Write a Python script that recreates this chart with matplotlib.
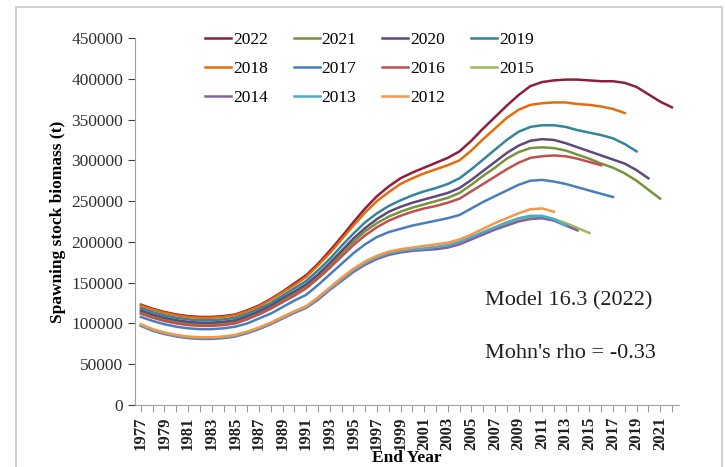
import numpy as np
import matplotlib.pyplot as plt
from matplotlib.patches import Rectangle

# Retrospective peels of spawning stock biomass (thousand t), each starts in 1977
start_year = 1977

ssb_2022 = [123, 118, 114, 111, 109, 108, 108, 109, 111, 116, 122, 130, 139, 149, 159, 173,
            189, 206, 224, 241, 256, 268, 278, 285, 291, 297, 303, 311, 324, 339, 353, 367,
            380, 391, 396, 398, 399, 399, 398, 397, 397, 395, 390, 381, 372, 365]
ssb_2021 = [114, 109, 105, 102, 100, 99, 99, 100, 102, 107, 113, 120, 129, 137, 146, 158,
            171, 186, 200, 213, 223, 231, 237, 242, 246, 250, 254, 260, 270, 281, 291, 302,
            310, 315, 316, 315, 312, 307, 302, 296, 291, 284, 275, 264, 253]
ssb_2020 = [116, 111, 107, 104, 102, 101, 101, 102, 104, 109, 115, 122, 131, 139, 148, 160,
            174, 189, 204, 217, 228, 237, 243, 248, 252, 256, 260, 266, 276, 287, 298, 309,
            318, 324, 326, 325, 321, 316, 311, 306, 301, 296, 288, 278]
ssb_2019 = [119, 114, 110, 107, 105, 104, 104, 105, 107, 112, 118, 125, 134, 143, 152, 165,
            179, 195, 210, 224, 235, 244, 251, 257, 262, 266, 271, 278, 289, 301, 313, 325,
            335, 341, 343, 343, 341, 337, 334, 331, 327, 320, 311]
ssb_2018 = [122, 117, 113, 110, 108, 107, 107, 108, 110, 115, 121, 129, 138, 147, 157, 171,
            186, 203, 220, 236, 250, 261, 271, 278, 284, 289, 294, 300, 312, 326, 339, 352,
            362, 368, 370, 371, 371, 369, 368, 366, 363, 358]
ssb_2017 = [108, 103, 99, 96, 94, 93, 93, 94, 96, 100, 106, 112, 120, 128, 135, 147,
            160, 173, 186, 197, 206, 212, 216, 220, 223, 226, 229, 233, 241, 249, 256, 263,
            270, 275, 276, 274, 271, 267, 263, 259, 255]
ssb_2016 = [112, 107, 103, 100, 98, 97, 97, 98, 100, 105, 111, 118, 126, 134, 143, 155,
            168, 182, 196, 208, 218, 226, 232, 237, 241, 244, 248, 253, 262, 271, 280, 289,
            297, 303, 305, 306, 305, 302, 298, 294]
ssb_2015 = [98, 92, 88, 85, 83, 82, 82, 83, 85, 89, 94, 100, 107, 114, 120, 130,
            142, 153, 164, 173, 180, 185, 188, 190, 191, 193, 195, 199, 205, 211, 217, 222,
            227, 230, 231, 228, 223, 217, 211]
ssb_2014 = [97, 91, 87, 84, 82, 81, 81, 82, 84, 88, 93, 99, 106, 113, 119, 129,
            141, 152, 163, 172, 179, 184, 187, 189, 190, 191, 193, 197, 203, 209, 215, 220,
            225, 228, 229, 226, 220, 214]
ssb_2013 = [98, 92, 88, 85, 83, 82, 82, 83, 85, 89, 94, 100, 107, 114, 120, 131,
            142, 154, 165, 174, 181, 186, 189, 191, 192, 194, 196, 200, 206, 212, 218, 224,
            229, 232, 232, 228, 220]
ssb_2012 = [99, 93, 89, 86, 84, 83, 83, 84, 86, 90, 95, 101, 108, 115, 121, 132,
            144, 156, 167, 176, 183, 188, 191, 193, 195, 197, 199, 203, 209, 216, 223, 229,
            235, 240, 241, 237]

peels = [("2022", ssb_2022, "#8e1f3c"), ("2021", ssb_2021, "#77933c"),
         ("2020", ssb_2020, "#5f497a"), ("2019", ssb_2019, "#31859c"),
         ("2018", ssb_2018, "#e46c0a"), ("2017", ssb_2017, "#4a7ebb"),
         ("2016", ssb_2016, "#c0504d"), ("2015", ssb_2015, "#9bbb59"),
         ("2014", ssb_2014, "#8064a2"), ("2013", ssb_2013, "#4bacc6"),
         ("2012", ssb_2012, "#f79646")]

plt.rcParams['font.family'] = ['Liberation Serif', 'DejaVu Serif']

fig = plt.figure(figsize=(7.25, 4.67), dpi=100)
ax = fig.add_axes([0.1862, 0.1328, 0.7504, 0.7858])

# light grey frame round the whole chart
fig.patches.append(Rectangle((16 / 725, -0.05), 706 / 725, 1.05 - 7 / 467,
                             transform=fig.transFigure, fill=False,
                             edgecolor='#c8c8c8', linewidth=1.2))

lines = {}
for name, vals, col in peels:
    yrs = np.arange(start_year, start_year + len(vals))
    lines[name], = ax.plot(yrs, np.array(vals) * 1000, color=col, linewidth=1.8)

# legend filled column-wise, so order handles to read row-wise 2022..2012
order = ["2022", "2018", "2014", "2021", "2017", "2013", "2020", "2016", "2012", "2019", "2015"]
ax.legend([lines[k] for k in order], order, ncol=4, frameon=False,
          loc='upper left', bbox_to_anchor=(0.10, 1.06), fontsize=12.5,
          handlelength=1.5, handletextpad=0.1, columnspacing=1.5,
          labelspacing=0.74)

ax.set_ylim(0, 450000)
ax.set_xlim(1976.5, 2022.6)
ax.set_yticks(np.arange(0, 450001, 50000))
ax.set_xticks(np.arange(1977, 2023, 2))
ax.set_xticks(np.arange(1977, 2023, 1), minor=True)
ax.tick_params(axis='y', labelsize=12.5, colors='#404040', length=5, width=0.8, labelcolor='#303030')
ax.tick_params(axis='x', which='both', labelsize=12, rotation=90, length=5, width=0.8, colors='#a0a0a0',
               labelcolor='#202020')
for lab in ax.get_xticklabels():
    lab.set_fontweight('bold')

for side in ['top', 'right']:
    ax.spines[side].set_visible(False)
ax.spines['left'].set_color('#a0a0a0')
ax.spines['bottom'].set_color('#a0a0a0')

ax.set_ylabel('Spawning stock biomass (t)', fontsize=12.5, fontweight='bold', labelpad=4)
ax.set_xlabel('End Year', fontsize=12.5, fontweight='bold', labelpad=0)

ax.text(0.643, 0.27, 'Model 16.3 (2022)', transform=ax.transAxes, fontsize=16, color='#202020')
ax.text(0.643, 0.128, "Mohn's rho = -0.33", transform=ax.transAxes, fontsize=16, color='#202020')

plt.savefig('out.png', dpi=100)
